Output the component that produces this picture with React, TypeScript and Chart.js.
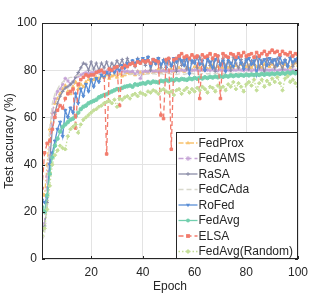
import React, { useEffect, useRef } from 'react';
import { Chart, registerables } from 'chart.js';

Chart.register(...registerables);

const epochs = [
  1, 2, 3, 4, 5, 6, 7, 8, 9, 10, 11, 12, 13, 14, 15, 16, 17, 18, 19, 20,
  21, 22, 23, 24, 25, 26, 27, 28, 29, 30, 31, 32, 33, 34, 35, 36, 37, 38, 39, 40,
  41, 42, 43, 44, 45, 46, 47, 48, 49, 50, 51, 52, 53, 54, 55, 56, 57, 58, 59, 60,
  61, 62, 63, 64, 65, 66, 67, 68, 69, 70, 71, 72, 73, 74, 75, 76, 77, 78, 79, 80,
  81, 82, 83, 84, 85, 86, 87, 88, 89, 90, 91, 92, 93, 94, 95, 96, 97, 98, 99, 100,
];
const xTicks = [20, 40, 60, 80, 100];
const yTicks = [0, 20, 40, 60, 80, 100];

const fedProx = [
  28, 27, 40, 55, 62, 66, 68, 70, 72, 73.5,
  71, 70, 73, 75, 72, 74, 73, 75, 76, 75.5,
  76, 77, 76.5, 77.5, 77, 78, 76.5, 77.5, 78, 77,
  78.5, 77.5, 78, 79, 78.5, 79, 78, 79.5, 79, 78.5,
  79.5, 79, 80, 79, 79.5, 80.5, 79, 80, 79.5, 80,
  80.5, 79.5, 80, 81, 80, 79.5, 81, 80.5, 80, 81.5,
  80.5, 81, 80, 81.5, 80.5, 81, 82, 80.5, 81.5, 81,
  80.5, 82, 81, 81.5, 80.5, 82, 81, 82.5, 81, 81.5,
  82, 81, 82.5, 81.5, 82, 81, 82.5, 82, 81.5, 82.5,
  81.5, 82, 83, 81.5, 82.5, 82, 81, 82.5, 83, 82,
];
const fedAMS = [
  12, 15, 35, 50, 62, 68, 71, 72, 74, 76.5,
  75.5, 74, 75, 77, 77.5, 78, 78.5, 79, 78.5, 79,
  79, 79.5, 79, 79.5, 79.2, 79.6, 79.3, 79.7, 79.4, 79.8,
  79.5, 79.7, 79.3, 79.6, 79.2, 79.5, 78.5, 79.4, 76.5, 79.3,
  79.6, 79.4, 79.8, 79.5, 79.7, 79.3, 79.6, 79.8, 79.5, 79.9,
  79.6, 79.8, 80, 79.7, 80.1, 79.8, 80, 80.2, 79.9, 80.1,
  80, 79.8, 80.2, 79.9, 80.1, 79.8, 80.2, 80, 79.7, 80.1,
  79.9, 80.2, 80, 79.8, 80.1, 79.9, 80.3, 80, 79.8, 80.2,
  80, 79.7, 80.1, 79.9, 80.2, 80, 79.8, 80.1, 79.9, 80.2,
  80, 79.8, 80.1, 79.9, 80.2, 80, 79.7, 80.1, 79.9, 80,
];
const raSA = [
  12, 14, 24, 42, 55, 62, 66, 69, 71, 72.5,
  73, 74, 75, 77, 79, 81, 83, 82.5, 80, 83.5,
  80.5, 83, 80, 83, 81, 83.5, 80.5, 83, 81.5, 84,
  82, 84.5, 81, 85, 82.5, 84, 81.5, 85, 83, 84.5,
  82, 85.5, 80, 84, 82.5, 85, 81, 84.5, 83, 85,
  81.5, 84, 79.5, 85.5, 82, 84.5, 80.5, 85, 83, 84,
  81, 85.5, 82.5, 80, 84.5, 82, 85, 79.5, 84, 82.5,
  85, 81.5, 84, 80, 85.5, 83, 81, 84.5, 82, 85,
  80.5, 84, 82.5, 85.5, 81, 84, 78.5, 85, 82.5, 84.5,
  81, 85, 83, 80.5, 84.5, 82, 85.5, 81.5, 84, 83,
];
const fedCAda = [
  8, 10, 30, 55, 66, 70, 72, 74, 75, 76,
  76.5, 77, 77, 77.5, 77.8, 78, 77.8, 78.2, 78, 78.3,
  78.1, 78.4, 78, 78.3, 78.1, 78.5, 78.2, 78, 78.4, 78.2,
  78.5, 78.1, 78.3, 78, 78.4, 78.2, 78.6, 78.1, 78.3, 78.5,
  78.2, 78.4, 78, 78.6, 78.3, 78.1, 78.5, 78.2, 78.4, 78.7,
  78.3, 78.5, 78.1, 78.4, 78.6, 78.2, 78.5, 78.3, 78.7, 78.4,
  78.6, 78.2, 78.5, 78.8, 78.4, 78.6, 78.3, 78.7, 78.5, 78.8,
  78.4, 78.7, 78.5, 78.9, 78.6, 78.4, 78.8, 78.5, 78.7, 78.9,
  78.6, 78.8, 78.5, 78.9, 78.7, 79, 78.6, 78.8, 79.1, 78.7,
  78.9, 78.6, 79, 78.8, 79.1, 78.7, 78.9, 79.2, 78.8, 79,
];
const roFed = [
  25, 24, 26, 40, 45, 50, 55, 58, 52, 63,
  60, 64, 62, 70, 66, 72, 69, 74, 71, 76,
  73, 76.5, 75, 78, 77, 79, 78, 80.5, 79, 81,
  80, 82, 81, 83, 82.5, 84, 83, 84.5, 83.5, 85,
  84, 85.5, 82, 84.5, 83, 85, 82.5, 84, 81, 84.5,
  82, 85, 83.5, 86, 84, 82, 85, 78.5, 84, 83,
  85.5, 82.5, 84, 80, 85, 83.5, 81, 84.5, 86, 82,
  84, 79.5, 85, 83, 81.5, 84.5, 85.5, 83, 80.5, 84,
  85, 82.5, 84, 78, 85.5, 83, 84.5, 82, 85, 83.5,
  84.5, 82, 85.5, 83, 84, 81.5, 85, 83.5, 84.5, 85,
];
const fedAvg = [
  22, 20, 27, 36, 43, 48, 51, 54, 56, 57,
  58, 59, 59.5, 60.5, 62, 63.5, 64.5, 65, 66, 66.5,
  67, 67.5, 68.5, 69, 69.5, 69.8, 70.5, 71, 71.5, 72,
  72, 72.5, 73, 73.2, 73.5, 73, 74, 73.8, 74.2, 74.5,
  74.3, 75, 74.6, 75.2, 75, 74.8, 75.5, 75.3, 75.8, 75.4,
  76, 75.6, 76.2, 75.8, 76.3, 76.1, 75.9, 76.5, 76.2, 76.7,
  76.4, 76.8, 76.5, 77, 76.7, 77.2, 76.9, 77.3, 77, 77.4,
  77.2, 77.6, 77.3, 77.8, 77.5, 77.9, 77.6, 78, 77.7, 78.1,
  77.8, 78.2, 77.9, 78.3, 78, 78.4, 78.1, 78.5, 78.2, 78.6,
  78.3, 78.7, 78.4, 78.8, 78.5, 79, 78.6, 79.1, 78.7, 79,
];
const elsa = [
  30, 45, 49, 50, 55, 60, 63, 65, 64, 68,
  70, 71, 72, 55.5, 74, 76, 77, 78, 77.5, 78,
  78, 79, 79.5, 80, 79, 44.5, 80.5, 80, 81, 81.5,
  65, 81, 82, 81.5, 82.5, 83, 82, 83.5, 83, 84,
  83.5, 84, 83, 84.5, 84, 83.5, 61, 59.5, 84.5, 85,
  46.5, 84.5, 85, 86, 87, 85.5, 86, 85, 86.5, 85.5,
  86, 68, 86.5, 85.5, 86, 87, 85, 86.5, 86, 68,
  87, 86, 85.5, 87, 86.5, 85.5, 87, 86, 87.5, 86,
  86.5, 87, 85.5, 87.5, 86, 87, 88, 86.5, 87.5, 88.5,
  87.5, 88, 86.5, 88, 87, 86.5, 87.5, 86, 87, 86.5,
];
const fedAvgRandom = [
  10, 13, 21, 31, 40, 44, 46, 48, 47, 46.5,
  52, 55, 56, 57, 53.5, 57, 59, 60, 61, 62,
  63, 63.5, 64.5, 65, 66, 66.5, 67, 66, 67.5, 64.5,
  68, 67.5, 68.5, 69, 68, 69.5, 70, 69, 70.5, 70,
  69.5, 71, 70.5, 71.5, 71, 70, 71.5, 72, 71, 70.5,
  71, 69.5, 71.5, 72, 70, 71.5, 72.5, 70.5, 72, 71,
  72.5, 71.5, 73, 72, 70.5, 73, 72.5, 71, 73.5, 72.5,
  73, 71.5, 74, 73, 75, 72, 74.5, 73, 71, 74,
  75, 73.5, 76, 71.5, 74.5, 76, 73, 75.5, 74, 76.5,
  75, 77, 74.5, 71.5, 76.5, 77.5, 75, 76, 74.5, 73,
];

const names = ['FedProx', 'FedAMS', 'RaSA', 'FedCAda', 'RoFed', 'FedAvg', 'ELSA', 'FedAvg(Random)'];
const values = [fedProx, fedAMS, raSA, fedCAda, roFed, fedAvg, elsa, fedAvgRandom];
const colors = ['#F8C471', '#C5A3D6', '#8B8DA8', '#D8D8CC', '#5A8ED6', '#72CFAE', '#F27B6C', '#C4DE98'];
const dashes: number[][] = [[5, 2, 1.5, 2], [5, 3], [], [5, 3], [], [], [5, 3], [1.5, 2]];
const markers = ['triangle', 'star', 'cross', 'none', 'triangleDown', 'circle', 'rect', 'rectRot'];

const FONT = 'Liberation Sans, Arial, Helvetica, sans-serif';
const TEXT = '#262626';

function drawMarker(ctx: CanvasRenderingContext2D, m: string, x: number, y: number, r: number, color: string) {
  ctx.save();
  ctx.setLineDash([]);
  ctx.fillStyle = color;
  ctx.strokeStyle = color;
  ctx.lineWidth = 1;
  ctx.beginPath();
  if (m === 'triangle' || m === 'triangleDown') {
    const s = m === 'triangle' ? 1 : -1;
    ctx.moveTo(x, y - s * r * 1.2);
    ctx.lineTo(x + r * 1.1, y + s * r * 0.7);
    ctx.lineTo(x - r * 1.1, y + s * r * 0.7);
    ctx.closePath();
    ctx.fill();
  } else if (m === 'star') {
    for (let k = 0; k < 4; k++) {
      const a = (k * Math.PI) / 4;
      ctx.moveTo(x - Math.cos(a) * r * 1.3, y - Math.sin(a) * r * 1.3);
      ctx.lineTo(x + Math.cos(a) * r * 1.3, y + Math.sin(a) * r * 1.3);
    }
    ctx.stroke();
  } else if (m === 'cross') {
    ctx.moveTo(x - r, y);
    ctx.lineTo(x + r, y);
    ctx.moveTo(x, y - r);
    ctx.lineTo(x, y + r);
    ctx.stroke();
  } else if (m === 'circle') {
    ctx.arc(x, y, r, 0, Math.PI * 2);
    ctx.fill();
  } else if (m === 'rect') {
    ctx.rect(x - r, y - r, r * 2, r * 2);
    ctx.fill();
  } else if (m === 'rectRot') {
    ctx.moveTo(x, y - r * 1.3);
    ctx.lineTo(x + r * 1.3, y);
    ctx.lineTo(x, y + r * 1.3);
    ctx.lineTo(x - r * 1.3, y);
    ctx.closePath();
    ctx.fill();
  }
  ctx.restore();
}

const framePlugin = {
  id: 'frame',
  afterDraw(chart: any) {
    const { ctx, chartArea } = chart;
    const { left, right, top, bottom } = chartArea;
    const xs = chart.scales.x;
    const ys = chart.scales.y;
    ctx.save();
    ctx.strokeStyle = TEXT;
    ctx.lineWidth = 1;
    ctx.setLineDash([]);
    ctx.beginPath();
    xTicks.forEach((v) => {
      const px = Math.round(xs.getPixelForValue(v)) + 0.5;
      ctx.moveTo(px, bottom);
      ctx.lineTo(px, bottom - 3);
      ctx.moveTo(px, top);
      ctx.lineTo(px, top + 3);
    });
    yTicks.forEach((v) => {
      const py = Math.round(ys.getPixelForValue(v)) + 0.5;
      ctx.moveTo(left, py);
      ctx.lineTo(left + 3, py);
      ctx.moveTo(right, py);
      ctx.lineTo(right - 3, py);
    });
    ctx.stroke();
    ctx.strokeRect(Math.round(left) + 0.5, Math.round(top) + 0.5, Math.round(right - left) - 1, Math.round(bottom - top) - 1);

    // legend box inside the plot, bottom-right
    const lw = 121;
    const lh = 126;
    const lx = Math.round(right) - lw - 0.5;
    const ly = Math.round(bottom) - lh - 0.5;
    ctx.fillStyle = '#ffffff';
    ctx.fillRect(lx, ly, lw, lh);
    ctx.strokeStyle = TEXT;
    ctx.strokeRect(lx, ly, lw, lh);
    ctx.font = `12px ${FONT}`;
    ctx.textBaseline = 'middle';
    ctx.textAlign = 'left';
    names.forEach((name, i) => {
      const cy = ly + 10.5 + i * 15.5;
      ctx.save();
      ctx.strokeStyle = colors[i];
      ctx.lineWidth = 1.3;
      ctx.setLineDash(dashes[i]);
      ctx.beginPath();
      ctx.moveTo(lx + 2, cy);
      ctx.lineTo(lx + 21, cy);
      ctx.stroke();
      ctx.restore();
      drawMarker(ctx, markers[i], lx + 11.5, cy, 1.9, colors[i]);
      ctx.fillStyle = TEXT;
      ctx.fillText(name, lx + 22, cy + 0.5);
    });
    ctx.restore();
  },
};

export default function App() {
  const ref = useRef<HTMLCanvasElement>(null);
  useEffect(() => {
    document.body.style.margin = '0';
    const canvas = ref.current;
    if (!canvas) return;
    const datasets = names.map((name, i) => {
      const m = markers[i];
      let pointStyle: any = m;
      let rotation = 0;
      if (m === 'triangleDown') {
        pointStyle = 'triangle';
        rotation = 180;
      }
      return {
        label: name,
        data: values[i],
        borderColor: colors[i],
        backgroundColor: colors[i],
        borderWidth: 1.3,
        borderDash: dashes[i],
        pointStyle: m === 'none' ? false : pointStyle,
        pointRotation: rotation,
        pointRadius: m === 'none' ? 0 : 1.8,
        pointBorderWidth: 1,
        pointBackgroundColor: colors[i],
        pointBorderColor: colors[i],
        tension: 0,
        order: names.length - i,
      };
    });
    const font = { family: FONT, size: 12 };
    const chart = new Chart(canvas, {
      type: 'line',
      data: { labels: epochs, datasets },
      options: {
        responsive: false,
        animation: false,
        events: [],
        layout: { padding: { top: 23, right: 22, left: 0, bottom: 0 } },
        plugins: { legend: { display: false }, tooltip: { enabled: false } },
        scales: {
          x: {
            type: 'linear',
            min: 1,
            max: 100,
            afterBuildTicks: (s: any) => {
              s.ticks = xTicks.map((v) => ({ value: v }));
            },
            afterFit: (s: any) => {
              s.height = 35;
            },
            grid: { color: '#e3e3e3', drawTicks: false },
            border: { display: false },
            ticks: { padding: 6, font, color: TEXT, maxRotation: 0 },
            title: { display: true, text: 'Epoch', font, color: TEXT, padding: { top: 0, bottom: 0 } },
          },
          y: {
            min: 0,
            max: 100,
            afterBuildTicks: (s: any) => {
              s.ticks = yTicks.map((v) => ({ value: v }));
            },
            afterFit: (s: any) => {
              s.width = 42;
            },
            grid: { color: '#e3e3e3', drawTicks: false },
            border: { display: false },
            ticks: { padding: 5, font, color: TEXT },
            title: { display: true, text: 'Test accuracy (%)', font, color: TEXT, padding: { top: 2, bottom: 0 } },
          },
        },
      } as any,
      plugins: [framePlugin],
    });
    return () => chart.destroy();
  }, []);
  return <canvas ref={ref} width={320} height={294} style={{ display: 'block' }} />;
}
